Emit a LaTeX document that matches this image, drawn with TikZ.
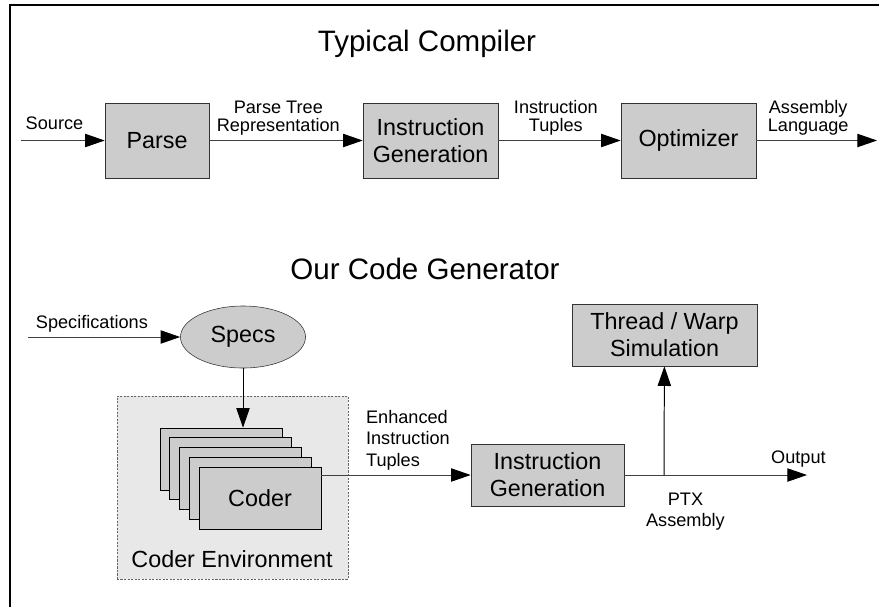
\documentclass[tikz,border=0pt]{standalone}
\usepackage{fontspec}
\setmainfont{Liberation Sans}
\usetikzlibrary{shapes.geometric,arrows.meta,positioning}
\definecolor{BoxGrey}{RGB}{204,204,204}
\definecolor{EnvGrey}{RGB}{232,232,232}

\begin{document}
\begin{tikzpicture}[x=0.025cm, y=-0.025cm,
  blk/.style={draw=black!80, fill=BoxGrey, font=\fontsize{16.6}{19}\selectfont, align=center, inner sep=0pt, minimum height=1.55cm},
  lbl/.style={font=\fontsize{12.9}{13}\selectfont, align=center},
  flow/.style={-{Triangle[length=14pt,width=9.5pt,black]}, draw=black!75, line width=0.7pt}]
\useasboundingbox (0,0) rectangle (879,607);
\draw[line width=1.3pt] (10,607) -- (10,5) -- (879,5);

% typical compiler
\node[font=\fontsize{21}{25}\selectfont] (title1) at (427,44) {Typical Compiler};
\node[blk, minimum width=2.6cm, minimum height=1.875cm] (parse) at (157,140.5) {Parse};
\node[blk, minimum width=3.375cm, minimum height=1.875cm] (ig1) at (430.5,140.5) {Instruction\\Generation};
\node[blk, minimum width=3.375cm, minimum height=1.875cm] (opt) at (688.5,140.5) {Optimizer};
\coordinate (src) at (21,140.5);
\coordinate (asm) at (877,140.5);

\draw[flow] (src) -- node[lbl, above=4pt, pos=0.4] {Source} (parse);
\draw[flow] (parse) -- node[lbl, above, pos=0.45] {Parse Tree\\Representation} (ig1);
\draw[flow] (ig1) -- node[lbl, above, pos=0.47] {Instruction\\Tuples} (opt);
\draw[flow] (opt) -- node[lbl, above, pos=0.43] {Assembly\\Language} (asm);

% our code generator
\node[font=\fontsize{21}{25}\selectfont] (title2) at (425,269) {Our Code Generator};
\node[ellipse, draw=black!80, fill=BoxGrey, minimum width=3.125cm, minimum height=1.55cm, font=\fontsize{16.6}{19}\selectfont] (specs) at (243,337) {Specs};
\coordinate (spec) at (28,337);
\draw[flow] (spec) -- node[lbl, above, pos=0.42] {Specifications} (specs);

\node[draw=black!60, dash pattern=on 1.5pt off 1pt, line width=0.6pt, fill=EnvGrey, minimum width=5.775cm, minimum height=4.575cm] (env) at (232.5,487.5) {};
\node[font=\fontsize{16.6}{19}\selectfont] (envlbl) at (232,559) {Coder Environment};
\foreach \i in {0,...,3}
  \node[blk, draw=black, minimum width=3.05cm] (c\i) at (221+9.75*\i,459+9.75*\i) {};
\node[blk, draw=black, minimum width=3.05cm] (coder) at (260,498) {Coder};
\draw[flow, draw=black] (specs) -- (specs |- c0.north);

\node[blk, minimum width=3.825cm] (ig2) at (547.5,475) {Instruction\\Generation};
\node[blk, minimum width=4.625cm] (sim) at (664.5,335) {Thread / Warp\\Simulation};
\coordinate (split) at (664,475);
\coordinate (out) at (807,475);

\draw[flow] (coder.east |- ig2.west) -- node[lbl, above, align=left, pos=0.58, font=\fontsize{12.9}{15}\selectfont] {Enhanced\\Instruction\\Tuples} (ig2);
\draw[draw=black!75, line width=0.7pt] (ig2) -- (split);
\draw[flow] (split) -- node[lbl, below=9pt, pos=0.15, font=\fontsize{12.9}{15}\selectfont] {PTX\\Assembly} node[lbl, above=2pt, pos=0.94] {Output} (out);
\draw[flow, draw=black] (split) -- (sim);
\end{tikzpicture}
\end{document}
